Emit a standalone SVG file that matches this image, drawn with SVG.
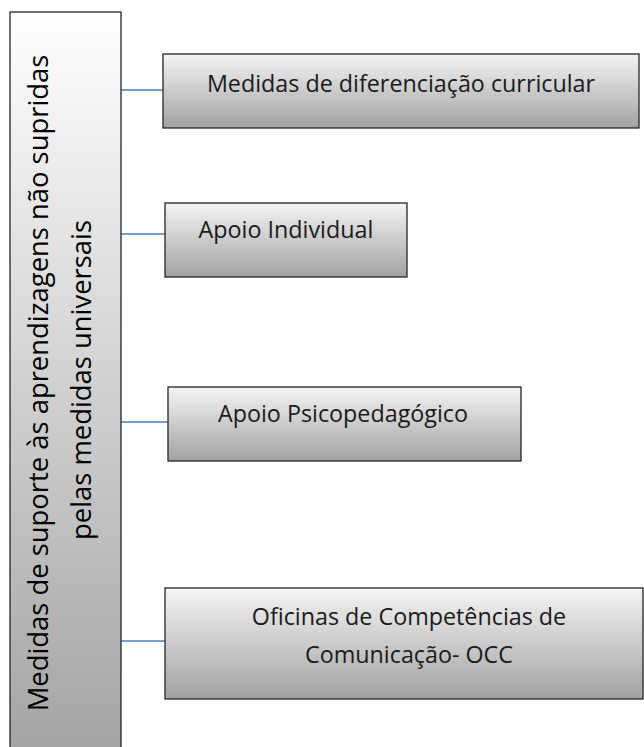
<svg xmlns="http://www.w3.org/2000/svg" width="644" height="747" viewBox="0 0 644 747">
  <defs>
    <linearGradient id="gMain" x1="0" y1="0" x2="0" y2="1">
      <stop offset="0" stop-color="#ffffff"/>
      <stop offset="1" stop-color="#a3a3a3"/>
    </linearGradient>
    <linearGradient id="gBox" x1="0" y1="0" x2="0" y2="1">
      <stop offset="0" stop-color="#f4f4f4"/>
      <stop offset="1" stop-color="#a2a2a2"/>
    </linearGradient>
  </defs>
  <style>
    .box { fill: url(#gBox); stroke: #262626; stroke-width: 1.3; }
    .main { fill: url(#gMain); stroke: #262626; stroke-width: 1.3; }
    .lbl { font-family: "Open Sans", "Noto Sans", sans-serif; font-size: 23.3px; fill: #1a1a1a; text-anchor: middle; }
    .vlbl { font-family: "Open Sans", "Noto Sans", sans-serif; font-size: 27.4px; fill: #000000; text-anchor: middle; }
    .conn { stroke: #4a7ebb; stroke-width: 1.5; fill: none; }
  </style>
  <rect width="644" height="747" fill="#ffffff"/>
  <g id="connectors">
    <line class="conn" x1="121" y1="90" x2="163" y2="90"/>
    <line class="conn" x1="121" y1="234" x2="165" y2="234"/>
    <line class="conn" x1="121" y1="422" x2="168" y2="422"/>
    <line class="conn" x1="121" y1="641" x2="165" y2="641"/>
  </g>
  <g id="main">
    <rect class="main" x="10" y="12" width="111" height="745"/>
    <text class="vlbl" transform="translate(48,383) rotate(-90)">Medidas de suporte às aprendizagens não supridas</text>
    <text class="vlbl" transform="translate(91,380) rotate(-90)">pelas medidas universais</text>
  </g>
  <g id="n1">
    <rect class="box" x="163" y="54" width="476" height="74"/>
    <text class="lbl" x="401" y="92">Medidas de diferenciação curricular</text>
  </g>
  <g id="n2">
    <rect class="box" x="165" y="203" width="242" height="74"/>
    <text class="lbl" x="286" y="238">Apoio Individual</text>
  </g>
  <g id="n3">
    <rect class="box" x="168" y="387" width="353" height="74"/>
    <text class="lbl" x="343" y="422">Apoio Psicopedagógico</text>
  </g>
  <g id="n4">
    <rect class="box" x="165" y="588" width="478" height="111"/>
    <text class="lbl" x="409" y="625">Oficinas de Competências de</text>
    <text class="lbl" x="409" y="663">Comunicação- OCC</text>
  </g>
</svg>
